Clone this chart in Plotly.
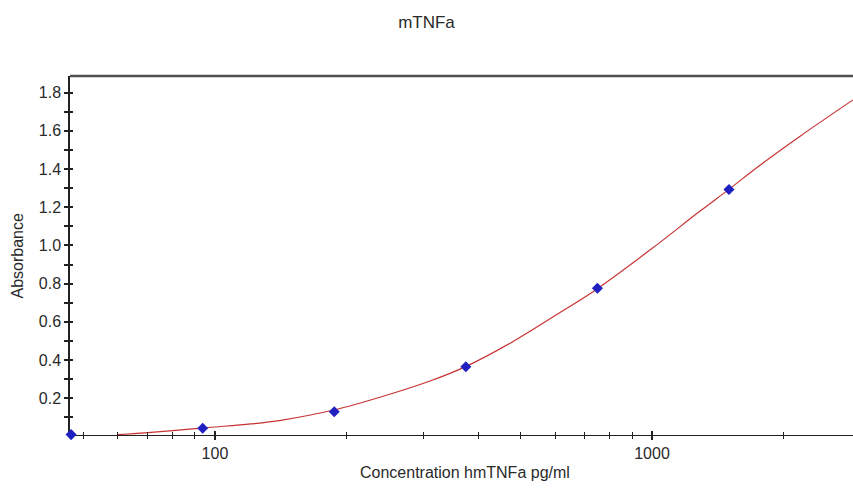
import math
import plotly.graph_objects as go

# Standards (pg/ml) and measured absorbance
std_conc = [46.875, 93.75, 187.5, 375, 750, 1500]
std_abs = [0.010, 0.043, 0.130, 0.365, 0.776, 1.293]

# Fitted curve
curve_conc = [60, 71.4, 92.9, 100, 120.8, 141.5, 188, 239.5, 311.6, 374.6,
              474.8, 617, 745.8, 1001, 1288, 1502, 1766, 2182, 2883]
curve_abs = [0.010, 0.022, 0.044, 0.050, 0.066, 0.085, 0.140, 0.207, 0.292, 0.366,
             0.490, 0.650, 0.770, 0.985, 1.180, 1.295, 1.420, 1.572, 1.762]

x_major = [100, 1000]
x_major_text = ["100", "1000"]
x_minor = [50, 60, 70, 80, 90, 200, 300, 400, 500, 600, 700, 800, 900, 2000]
y_major = [0.2, 0.4, 0.6, 0.8, 1.0, 1.2, 1.4, 1.6, 1.8]
y_minor = [0.1, 0.3, 0.5, 0.7, 0.9, 1.1, 1.3, 1.5, 1.7]

title_text = "mTNFa"
x_title = "Concentration hmTNFa pg/ml"
y_title = "Absorbance"

x_range = [math.log10(46.6), math.log10(2883)]
y_range = [0.008, 1.887]

FONT = "Liberation Sans, Arial, sans-serif"
AX = "#222222"
TXT = "#2a2a2a"

fig = go.Figure()
fig.add_trace(go.Scatter(x=curve_conc, y=curve_abs, mode="lines",
                         line=dict(color="#c83232", width=1.2, shape="spline", smoothing=1.0),
                         hoverinfo="skip", showlegend=False))
fig.add_trace(go.Scatter(x=std_conc, y=std_abs, mode="markers",
                         marker=dict(symbol="diamond", size=8.5, color="#2020c0",
                                     line=dict(width=0)),
                         cliponaxis=False, showlegend=False))

common_x = dict(type="log", range=x_range, showgrid=False, zeroline=False)
common_y = dict(range=y_range, showgrid=False, zeroline=False)

fig.update_layout(
    width=853, height=495,
    paper_bgcolor="white", plot_bgcolor="white",
    margin=dict(l=70, r=0, t=76, b=60),
    font=dict(family=FONT, size=16, color=TXT),
    title=dict(text=title_text, x=0.5, xanchor="center", y=0.955, yanchor="middle",
               font=dict(size=17, color=TXT)),
    xaxis=dict(**common_x, showline=True, linecolor=AX, linewidth=1.2,
               layer="below traces",
               tickmode="array", tickvals=x_major, ticktext=x_major_text,
               ticks="outside", ticklen=4, tickwidth=1.5, tickcolor=AX,
               minor=dict(tickmode="array", tickvals=x_minor, ticks="outside",
                          ticklen=3, tickwidth=1.2, tickcolor=AX),
               tickfont=dict(size=16)),
    xaxis2=dict(**common_x, overlaying="x", side="bottom", showline=False,
                tickmode="array", tickvals=x_major,
                ticks="inside", ticklen=4, tickwidth=1.5, tickcolor=AX,
                showticklabels=False,
                minor=dict(tickmode="array", tickvals=x_minor, ticks="inside",
                           ticklen=3, tickwidth=1.2, tickcolor=AX)),
    yaxis=dict(**common_y, showline=True, linecolor=AX, linewidth=1.5,
               layer="below traces",
               tickmode="array", tickvals=y_major, ticktext=[f"{v:.1f}" for v in y_major],
               ticks="outside", ticklen=4, tickwidth=1.5, tickcolor=AX,
               minor=dict(tickmode="array", tickvals=y_minor, ticks="outside",
                          ticklen=4, tickwidth=1.5, tickcolor=AX),
               tickfont=dict(size=16)),
    yaxis2=dict(**common_y, overlaying="y", side="left", showline=False,
                tickmode="array", tickvals=y_major, showticklabels=False,
                ticks="inside", ticklen=3, tickwidth=1.5, tickcolor=AX,
                minor=dict(tickmode="array", tickvals=y_minor, ticks="inside",
                           ticklen=3, tickwidth=1.5, tickcolor=AX)),
    shapes=[dict(type="line", xref="paper", yref="paper", x0=0, x1=1, y0=1, y1=1,
                 line=dict(color="#505050", width=2.5))],
    annotations=[
        dict(text=x_title, xref="paper", yref="paper", x=(465 - 70) / 783,
             y=-(472 - 435) / 359, xanchor="center", yanchor="middle",
             showarrow=False, font=dict(size=16, color=TXT)),
        dict(text=y_title, xref="paper", yref="paper", x=-(70 - 17) / 783,
             y=0.5, xanchor="center", yanchor="middle", textangle=-90,
             showarrow=False, font=dict(size=16, color=TXT)),
    ],
)
# invisible trace to anchor the overlay axes
fig.add_trace(go.Scatter(x=[None], y=[None], xaxis="x2", yaxis="y2",
                         showlegend=False, hoverinfo="skip"))

fig.write_html("out.html",
               config={"displayModeBar": False},
               post_script="document.body.style.margin='0';"
                           "document.body.style.overflow='hidden';")
